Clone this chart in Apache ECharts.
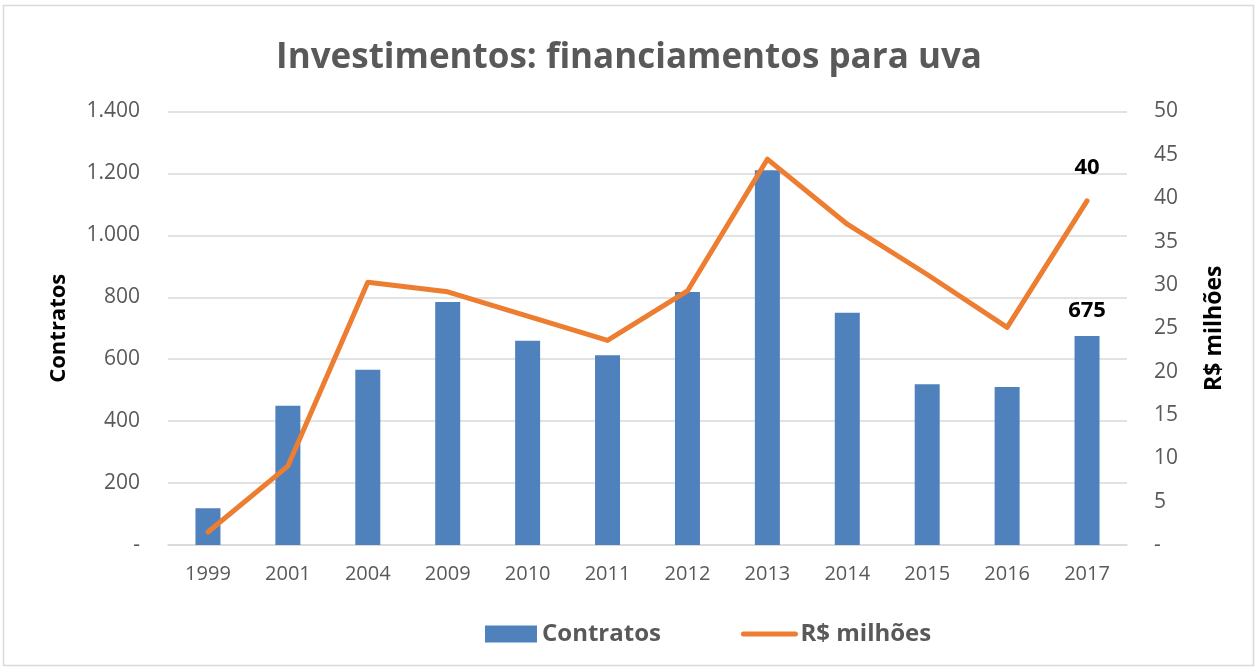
<!DOCTYPE html>
<html><head><meta charset="utf-8">
<script src="https://cdn.jsdelivr.net/npm/echarts@6/dist/echarts.min.js"></script>
<style>html,body{margin:0;padding:0;background:#fff}#c{width:1258px;height:671px}</style>
</head><body><div id="c"></div>
<script>
const categories = ['1999','2001','2004','2009','2010','2011','2012','2013','2014','2015','2016','2017'];
const contratos = [119, 450, 566, 785, 660, 613, 817, 1210, 750, 519, 510, 675];
const milhoes = [1.5, 9.1, 30.3, 29.2, 26.4, 23.6, 29.3, 44.5, 37.0, 31.2, 25.1, 39.7];
const leftTicks = [0, 200, 400, 600, 800, 1000, 1200, 1400];
const rightTicks = [0, 5, 10, 15, 20, 25, 30, 35, 40, 45, 50];

const FONT = '"Open Sans", sans-serif';
const chart = echarts.init(document.getElementById('c'));
function fmtThousand(v){ if(v===0) return '-'; return String(v).replace(/\B(?=(\d{3})+(?!\d))/g,'.'); }
const lastIdx = categories.length - 1;
chart.setOption({
  animation:false,
  textStyle:{fontFamily:FONT},
  title:{text:'Investimentos: financiamentos para uva', left:'center', top:36,
    textStyle:{fontFamily:FONT, fontSize:35, fontWeight:'bold', color:'#595959'}},
  graphic:[{type:'rect', shape:{x:3.5,y:5.5,width:1250,height:660}, style:{fill:'none', stroke:'#d9d9d9', lineWidth:1.5}, silent:true}],
  legend:{bottom:20, left:480, itemGap:80, itemWidth:52, itemHeight:17,
    textStyle:{fontFamily:FONT, fontSize:24, fontWeight:'bold', color:'#595959'},
    data:[{name:'Contratos', icon:'rect'}, {name:'R$ milhões', itemStyle:{opacity:0}, lineStyle:{width:5, cap:'round'}}]},
  grid:{left:168, right:131, top:111.5, bottom:126},
  xAxis:{type:'category', data:categories,
    axisLine:{lineStyle:{color:'#d9d9d9', width:1.5}}, axisTick:{show:false},
    axisLabel:{color:'#595959', fontSize:20, fontFamily:FONT, margin:19}},
  yAxis:[
    {type:'value', min:0, max:1400, interval:200, name:'Contratos', nameLocation:'middle', nameGap:98,
      nameTextStyle:{fontFamily:FONT, fontSize:22, fontWeight:'bold', color:'#000'},
      axisLabel:{formatter:fmtThousand, color:'#595959', fontSize:21, fontFamily:FONT, margin:28},
      splitLine:{lineStyle:{color:'#d9d9d9', width:1.5}}, axisLine:{show:false}, axisTick:{show:false}},
    {type:'value', min:0, max:50, interval:5, name:'R$ milhões', nameLocation:'middle', nameGap:76, nameRotate:90,
      nameTextStyle:{fontFamily:FONT, fontSize:23, fontWeight:'bold', color:'#000'},
      axisLabel:{formatter:v=>v===0?'-':String(v), color:'#595959', fontSize:21, fontFamily:FONT, margin:27},
      splitLine:{show:false}, axisLine:{show:false}, axisTick:{show:false}}
  ],
  series:[
    {name:'Contratos', type:'bar', yAxisIndex:0, barWidth:25, itemStyle:{color:'#4F81BD'},
      data:contratos.map((v,i)=> i===lastIdx ? {value:v, label:{show:true, position:'top', distance:14, fontSize:22, fontWeight:'bold', color:'#000', fontFamily:FONT}} : v)},
    {name:'R$ milhões', type:'line', yAxisIndex:1, symbol:'none', lineStyle:{color:'#ED7D31', width:5, cap:'round', join:'round'}, itemStyle:{color:'#ED7D31'},
      data:milhoes.map((v,i)=> i===lastIdx ? {value:v, symbol:'circle', symbolSize:1, label:{show:true, position:'top', distance:22, formatter:()=>String(Math.round(v)), fontSize:22, fontWeight:'bold', color:'#000', fontFamily:FONT}} : v)}
  ]
});
</script></body></html>
